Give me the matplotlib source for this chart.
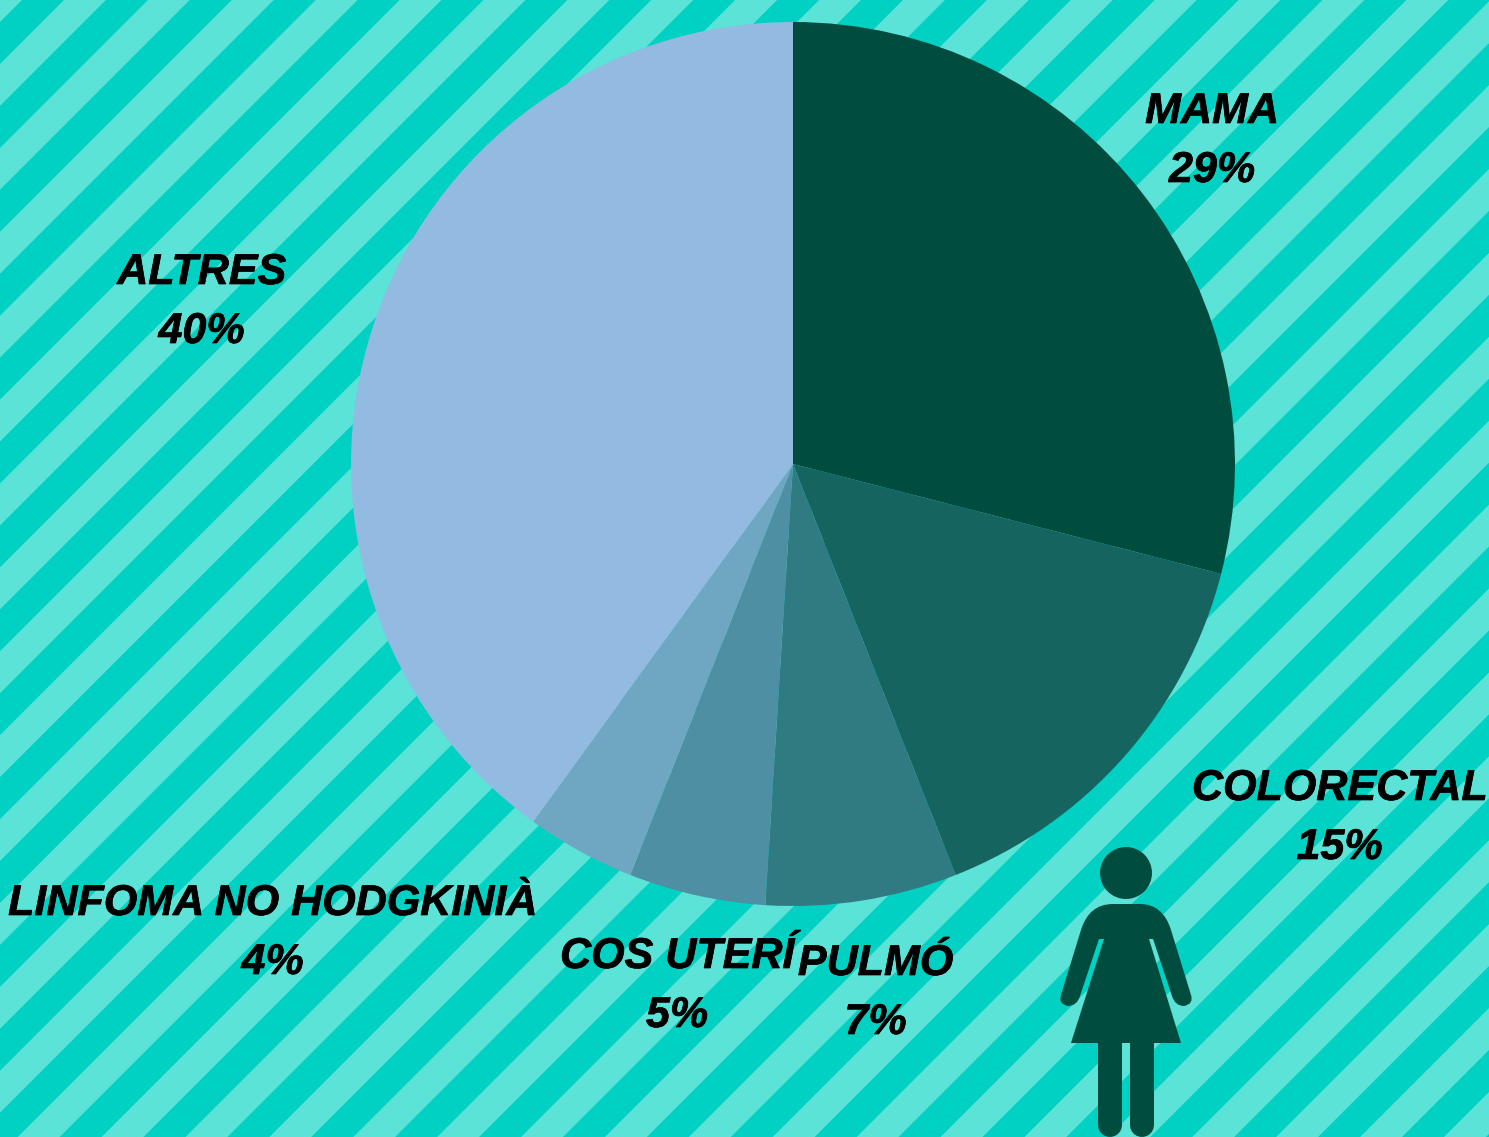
import matplotlib
matplotlib.use("Agg")
import matplotlib.pyplot as plt
import matplotlib.patheffects as pe
from matplotlib.patches import Polygon, Circle, PathPatch
from matplotlib.path import Path

labels = ["MAMA", "COLORECTAL", "PULMÓ", "COS UTERÍ", "LINFOMA NO HODGKINIÀ", "ALTRES"]
values = [29, 15, 7, 5, 4, 40]
colors = ["#004D40", "#156460", "#307A82", "#4E8FA3", "#6FA7C2", "#93BAE0"]
label_x = [1212, 1339.5, 875.5, 677, 272.5, 201.5]
label_y = [123, 800, 975, 968, 915, 284]

W, H = 1489, 1137
BG_LIGHT, BG_DARK = "#5BE3D7", "#00D1C2"
STRIPE_PERIOD, STRIPE_PHASE = 83.9, 22
CX, CY, R = 793, 464, 442
DARK = "#004D40"

fig = plt.figure(figsize=(W / 100, H / 100), dpi=100)
ax = fig.add_axes([0, 0, 1, 1])
ax.axis("off")
fig.patch.set_facecolor(BG_LIGHT)

def Y(y):
    return H - y

# diagonal stripes
u = STRIPE_PHASE - 2 * STRIPE_PERIOD
while u < W + H:
    a, b = u, u + STRIPE_PERIOD / 2
    ax.add_patch(Polygon([(a, Y(0)), (b, Y(0)), (b - H, Y(H)), (a - H, Y(H))],
                         closed=True, fc=BG_DARK, ec="none", zorder=1))
    u += STRIPE_PERIOD

# pie
wedges, _ = ax.pie(values, colors=colors, startangle=90, counterclock=False,
                   center=(CX, Y(CY)), radius=R, frame=False)
for w in wedges:
    w.set_zorder(2)
    w.set_linewidth(0)
ax.set_xlim(0, W)
ax.set_ylim(0, H)
ax.set_aspect("auto")

# labels
font = dict(family="Liberation Sans", weight="bold", style="italic",
            fontsize=31, color="black", ha="center", va="baseline", zorder=5,
            path_effects=[pe.withStroke(linewidth=0.5, foreground="black")])
for name, val, x, y in zip(labels, values, label_x, label_y):
    ax.text(x, Y(y), name, **font)
    ax.text(x, Y(y + 59), f"{val}%", **font)

# person pictogram
ax.add_patch(Circle((1126, Y(873)), 26, fc=DARK, ec="none", zorder=4))
M, L, C = Path.MOVETO, Path.LINETO, Path.CURVE3
verts = [(1071, 1043), (1104, 939), (1099, 939), (1080, 996),
         (1077, 1006), (1068, 1006), (1058, 1004), (1061, 995),
         (1081, 930), (1089, 904), (1113, 904),
         (1140, 904), (1163, 904), (1171, 930),
         (1191, 995), (1194, 1004), (1184, 1006), (1175, 1006), (1172, 996),
         (1153, 939), (1149, 939), (1181, 1043), (1071, 1043)]
codes = [M, L, L, L, C, C, C, C, L, C, C, L, C, C, L, C, C, C, C, L, L, L, Path.CLOSEPOLY]
ax.add_patch(PathPatch(Path([(x, Y(y)) for x, y in verts], codes),
                       fc=DARK, ec="none", zorder=4))
for lx in (1109.7, 1142.3):
    ax.plot([lx, lx], [Y(1035), Y(1125)], color=DARK, lw=24 * 0.72,
            solid_capstyle="round", zorder=4)

fig.savefig("out.png", dpi=100, facecolor=BG_LIGHT)
